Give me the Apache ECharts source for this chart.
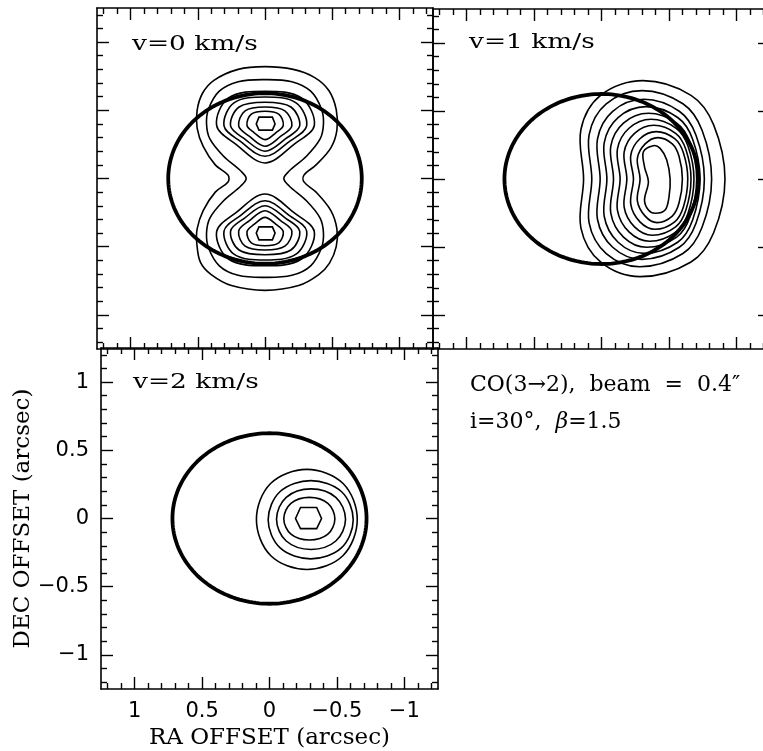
<!DOCTYPE html>
<html>
<head>
<meta charset="utf-8">
<script src="https://cdn.jsdelivr.net/npm/echarts@6/dist/echarts.min.js"></script>
<style>
  html, body { margin: 0; padding: 0; background: #fff; }
  #chart { width: 763px; height: 751px; }
</style>
</head>
<body>
<div id="chart"></div>
<script>
// all offsets in arcsec
const majorTicks = [-1, -0.5, 0, 0.5, 1];
const minorTicks = [-1.2, -1.1, -0.9, -0.8, -0.7, -0.6, -0.4, -0.3, -0.2, -0.1,
  0.1, 0.2, 0.3, 0.4, 0.6, 0.7, 0.8, 0.9, 1.1, 1.2];
const panelLabels = ["v=0 km/s", "v=1 km/s", "v=2 km/s"];
const noteLines = ["CO(3\u21922),  beam  =  0.4\u2033", "i=30\u00b0,  "];

// projected disk: [x centre, y centre, semi-axis x, semi-axis y]
const diskEllipse = [0, 0, 0.72, 0.625];

// v = 0 km/s contours (outer to inner)
const v0Contours = [
  [[0,.82],[-.21,.8],[-.37,.74],[-.475,.645],[-.53,.505],[-.535,.355],[-.49,.225],[-.38,.1],[-.29,.025],[-.29,-.025],[-.38,-.1],[-.49,-.235],[-.535,-.37],[-.53,-.5],[-.48,-.62],[-.4,-.705],[-.25,-.785],[0,-.82],[.25,-.785],[.4,-.705],[.48,-.615],[.507,-.48],[.505,-.37],[.46,-.235],[.37,-.1],[.275,-.025],[.275,.025],[.37,.1],[.46,.235],[.505,.37],[.505,.5],[.465,.625],[.38,.72],[.2,.8]],
  [[0,.725],[-.2,.71],[-.34,.64],[-.42,.51],[-.435,.4],[-.41,.29],[-.31,.165],[-.18,.055],[-.14,0],[-.18,-.055],[-.31,-.165],[-.41,-.29],[-.435,-.4],[-.42,-.51],[-.34,-.64],[-.2,-.71],[0,-.725],[.2,-.71],[.34,-.64],[.42,-.51],[.435,-.4],[.41,-.29],[.31,-.165],[.18,-.055],[.14,0],[.18,.055],[.31,.165],[.41,.29],[.435,.4],[.42,.51],[.34,.64],[.2,.71]],
  [[0,.64],[-.272,.59],[-.367,.39],[-.218,.252],[0,.114],[.218,.252],[.36,.39],[.272,.59]],
  [[0,.598],[-.231,.555],[-.31,.385],[-.185,.274],[0,.163],[.185,.274],[.305,.385],[.231,.555]],
  [[0,.559],[-.193,.524],[-.258,.385],[-.154,.292],[0,.2],[.154,.292],[.256,.385],[.193,.524]],
  [[0,.524],[-.148,.496],[-.2,.385],[-.118,.31],[0,.236],[.118,.31],[.196,.385],[.148,.496]],
  [[0,.493],[-.102,.472],[-.136,.39],[-.082,.337],[0,.285],[.082,.337],[.134,.39],[.102,.472]],
  [[0,-.64],[-.272,-.59],[-.367,-.39],[-.218,-.252],[0,-.114],[.218,-.252],[.36,-.39],[.272,-.59]],
  [[0,-.598],[-.231,-.555],[-.31,-.385],[-.185,-.274],[0,-.163],[.185,-.274],[.305,-.385],[.231,-.555]],
  [[0,-.559],[-.193,-.524],[-.258,-.385],[-.154,-.292],[0,-.2],[.154,-.292],[.256,-.385],[.193,-.524]],
  [[0,-.524],[-.148,-.496],[-.2,-.385],[-.118,-.31],[0,-.236],[.118,-.31],[.196,-.385],[.148,-.496]],
  [[0,-.493],[-.102,-.472],[-.136,-.39],[-.082,-.337],[0,-.285],[.082,-.337],[.134,-.39],[.102,-.472]]
];
const v0Cores = [
  [[.045,.45],[-.055,.45],[-.075,.4],[-.055,.355],[.045,.355],[.065,.4]],
  [[.045,-.45],[-.055,-.45],[-.075,-.4],[-.055,-.355],[.045,-.355],[.065,-.4]]
];

// v = 1 km/s contours
const v1Contours = [
  [[.133,0],[.153,.362],[.007,.615],[-.308,.723],[-.664,.615],[-.832,.398],[-.916,0],[-.832,-.395],[-.664,-.61],[-.287,-.718],[.007,-.61],[.153,-.359]],
  [[.072,0],[.092,.325],[-.035,.553],[-.301,.65],[-.604,.553],[-.746,.358],[-.817,0],[-.746,-.355],[-.604,-.548],[-.284,-.645],[-.035,-.548],[.092,-.323]],
  [[.01,0],[.03,.293],[-.083,.498],[-.315,.586],[-.577,.498],[-.701,.322],[-.763,0],[-.701,-.325],[-.577,-.502],[-.299,-.591],[-.083,-.502],[.03,-.296]],
  [[-.04,0],[-.02,.266],[-.123,.452],[-.33,.532],[-.565,.452],[-.676,.293],[-.731,0],[-.676,-.301],[-.565,-.465],[-.316,-.547],[-.123,-.465],[-.02,-.274]],
  [[-.089,0],[-.069,.242],[-.163,.411],[-.348,.483],[-.558,.411],[-.657,.266],[-.706,0],[-.657,-.276],[-.558,-.427],[-.336,-.502],[-.163,-.427],[-.069,-.251]],
  [[-.138,0],[-.118,.22],[-.204,.373],[-.368,.439],[-.554,.373],[-.642,.241],[-.686,0],[-.642,-.252],[-.554,-.389],[-.357,-.458],[-.204,-.389],[-.118,-.229]],
  [[-.188,0],[-.168,.198],[-.245,.336],[-.388,.395],[-.55,.336],[-.626,.217],[-.664,0],[-.626,-.228],[-.55,-.352],[-.378,-.414],[-.245,-.352],[-.168,-.207]],
  [[-.237,0],[-.217,.174],[-.285,.296],[-.406,.348],[-.543,.296],[-.608,.191],[-.64,0],[-.608,-.204],[-.543,-.315],[-.398,-.37],[-.285,-.315],[-.217,-.185]],
  [[-.286,0],[-.266,.152],[-.324,.258],[-.418,.304],[-.525,.258],[-.575,.167],[-.6,0],[-.575,-.177],[-.525,-.273],[-.412,-.321],[-.324,-.273],[-.266,-.161]],
  [[-.348,-.02],[-.319,.09],[-.311,.2],[-.385,.245],[-.435,.225],[-.484,.14],[-.509,0],[-.501,-.13],[-.472,-.228],[-.398,-.252],[-.348,-.228],[-.319,-.154]]
];

// v = 2 km/s contours
const v2Contours = [
  [[.097,-.007],[-.008,.257],[-.277,.36],[-.546,.257],[-.651,-.007],[-.546,-.271],[-.277,-.374],[-.008,-.271]],
  [[.01,-.009],[-.079,.198],[-.306,.278],[-.533,.198],[-.621,-.009],[-.533,-.216],[-.306,-.296],[-.079,-.216]],
  [[-.052,-.005],[-.124,.155],[-.308,.217],[-.492,.155],[-.564,-.005],[-.492,-.165],[-.308,-.227],[-.124,-.165]],
  [[-.106,-.002],[-.159,.111],[-.296,.155],[-.433,.111],[-.485,-.002],[-.433,-.115],[-.296,-.158],[-.159,-.115]]
];
const v2Cores = [
  [[-.193,0],[-.23,.081],[-.35,.081],[-.386,0],[-.35,-.074],[-.23,-.074]]
];

const grids = [
  { left: 97, top: 8, width: 336, height: 341, outerBoundsMode: "none" },
  { left: 433, top: 9, width: 337, height: 340, outerBoundsMode: "none" },
  { left: 101, top: 348, width: 337, height: 341, outerBoundsMode: "none" },
];

const minus = (v) => String(v).replace("-", "\u2212");

function sideAxes (dim, g, labelled, name) {
  const positions = dim === "x" ? ["bottom", "top"] : ["left", "right"];
  const out = [];
  positions.forEach((p, k) => {
    const base = {
      type: "value", gridIndex: g, position: p, min: -1.25, max: 1.25,
      inverse: dim === "x", splitLine: { show: false },
    };
    const withLabel = labelled && k === 0;
    out.push(Object.assign({}, base, {
      axisLine: { show: true, onZero: false, lineStyle: { color: "#000", width: 1.6 } },
      axisTick: { show: true, inside: true, length: 12, customValues: majorTicks,
        lineStyle: { color: "#000", width: 1.4 } },
      axisLabel: withLabel ? {
        show: true, customValues: majorTicks, formatter: minus, color: "#000",
        fontFamily: "DejaVu Sans", fontSize: 21, margin: 12,
      } : { show: false },
      name: withLabel ? name : "",
      nameLocation: "middle",
      nameGap: dim === "x" ? 38 : 66,
      nameTextStyle: { fontFamily: "DejaVu Serif", fontSize: 23, color: "#000" },
    }));
    out.push(Object.assign({}, base, {
      axisLine: { show: false, onZero: false },
      axisTick: { show: true, inside: true, length: 6, customValues: minorTicks,
        lineStyle: { color: "#000", width: 1.4 } },
      axisLabel: { show: false },
    }));
  });
  return out;
}

function contourSeries (lines, g, smooth) {
  return {
    type: "custom", xAxisIndex: g * 4, yAxisIndex: g * 4, clip: true, silent: true,
    animation: false,
    data: lines.map((_, i) => [i]),
    renderItem (params, api) {
      const pts = lines[params.dataIndex].map((p) => api.coord(p));
      return {
        type: "polygon",
        shape: { points: pts, smooth },
        style: { fill: null, stroke: "#000", lineWidth: 1.6 },
      };
    },
  };
}

function diskSeries (g) {
  return {
    type: "custom", xAxisIndex: g * 4, yAxisIndex: g * 4, clip: true, silent: true,
    animation: false,
    data: [diskEllipse],
    renderItem (params, api) {
      const c = api.coord([api.value(0), api.value(1)]);
      const s = api.size([api.value(2), api.value(3)]);
      const pts = [];
      for (let i = 0; i < 180; i++) {
        const t = (i / 180) * Math.PI * 2;
        pts.push([c[0] + s[0] * Math.cos(t), c[1] + s[1] * Math.sin(t)]);
      }
      return {
        type: "polygon",
        shape: { points: pts },
        style: { fill: null, stroke: "#000", lineWidth: 3.8 },
      };
    },
  };
}

const xAxes = [], yAxes = [];
grids.forEach((_, g) => {
  xAxes.push(...sideAxes("x", g, g === 2, "RA OFFSET (arcsec)"));
  yAxes.push(...sideAxes("y", g, g === 2, "DEC OFFSET (arcsec)"));
});

const labelPos = [[132, 45], [469, 43], [133, 383]];
const serif = '"DejaVu Serif", "Liberation Serif", serif';

const chart = echarts.init(document.getElementById("chart"), null, { renderer: "canvas" });
chart.setOption({
  backgroundColor: "#fff",
  animation: false,
  grid: grids,
  xAxis: xAxes,
  yAxis: yAxes,
  graphic: [
    ...panelLabels.map((t, i) => ({
      type: "text", x: labelPos[i][0], y: labelPos[i][1], scaleX: 1.32,
      style: { text: t, font: "20px " + serif, fill: "#000", verticalAlign: "middle" },
    })),
    {
      type: "text", x: 470, y: 385,
      style: { text: noteLines[0], font: "22px " + serif, fill: "#000", verticalAlign: "middle" },
    },
    {
      type: "text", x: 470, y: 422,
      style: {
        text: "{n|" + noteLines[1] + "}{b|\u03b2}{n|=1.5}",
        verticalAlign: "middle",
        rich: {
          n: { font: "22px " + serif, fill: "#000" },
          b: { font: "italic 22px " + serif, fill: "#000" },
        },
      },
    },
  ],
  series: [
    contourSeries(v0Contours, 0, 0.35),
    contourSeries(v0Cores, 0, 0),
    diskSeries(0),
    contourSeries(v1Contours, 1, 0.35),
    diskSeries(1),
    contourSeries(v2Contours, 2, 0.35),
    contourSeries(v2Cores, 2, 0),
    diskSeries(2),
  ],
});
</script>
</body>
</html>
